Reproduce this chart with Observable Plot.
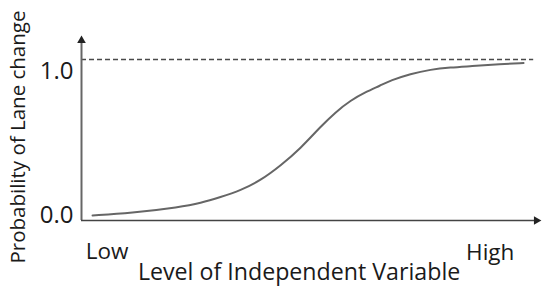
<!DOCTYPE html>
<html>
<head>
<meta charset="utf-8">
<script src="https://cdn.jsdelivr.net/npm/d3@7"></script>
<script src="https://cdn.jsdelivr.net/npm/@observablehq/plot@0.6"></script>
<style>
  html, body { margin: 0; padding: 0; background: #fff; }
</style>
</head>
<body>
<div id="chart"></div>
<script>
// Curve (x: 0..100 level, y: probability)
const levelX = [2.4, 10.65, 21.5, 25.9, 30.2, 34.6, 38.9, 43.3, 47.6, 52.0, 55.2, 58.5, 61.7, 65.0, 67.2, 71.5, 75.9, 80.2, 84.6, 91.1, 96.1];
const probY  = [0.0, 0.016, 0.058, 0.086, 0.127, 0.174, 0.243, 0.347, 0.465, 0.618, 0.717, 0.799, 0.856, 0.903, 0.938, 0.984, 1.014, 1.028, 1.037, 1.052, 1.059];
const asymptote = 1.083;
const yTicks = [0, 1];
const yTickLabels = ["0.0", "1.0"];
const xLabels = ["Low", "High"];
const xTitle = "Level of Independent Variable";
const yTitle = "Probability of Lane change";

const curve = levelX.map((x, i) => ({x, y: probY[i]}));
const font = "'Open Sans', sans-serif";
const ink = "#1a1a1a";

const chart = Plot.plot({
  width: 550,
  height: 292,
  margin: 0,
  x: {domain: [0, 100], range: [81, 541], axis: null},
  y: {domain: [0, 1], range: [215, 71], axis: null},
  style: {fontFamily: font, background: "#fff", color: ink},
  marks: [
    // dashed asymptote
    Plot.ruleY([asymptote], {x1: 0, x2: 98.3, stroke: "#4a4a4a", strokeWidth: 1.4, strokeDasharray: "5,3"}),
    // y axis line + arrow
    Plot.ruleX([0], {y1: -0.035, y2: 1.215, stroke: "#666", strokeWidth: 2}),
    Plot.dot([0], {x: 0, y: 1.215, symbol: "triangle", r: 3.2, fill: "#222", stroke: null}),
    // x axis line + arrow
    Plot.ruleY([-0.035], {x1: 0, x2: 98.9, stroke: "#444", strokeWidth: 1.6}),
    Plot.dot([0], {x: 98.9, y: -0.035, symbol: "triangle", r: 3.2, fill: "#222", stroke: null, rotate: 90}),
    // sigmoid curve
    Plot.line(curve, {x: "x", y: "y", curve: "basis", stroke: "#666", strokeWidth: 2}),
    // y tick labels
    Plot.text(yTicks, {x: 0, y: d => d, text: (d, i) => yTickLabels[i], textAnchor: "end", dx: -8, fontSize: 24, fill: ink}),
    // x end labels
    Plot.text([xLabels[0]], {x: 0.9, y: -0.255, text: d => d, textAnchor: "start", fontSize: 22.5, fill: ink}),
    Plot.text([xLabels[1]], {x: 94.1, y: -0.262, text: d => d, textAnchor: "end", fontSize: 22.5, fill: ink}),
    // axis titles
    Plot.text([xTitle], {x: 47.3, y: -0.396, text: d => d, fontSize: 23.2, fill: ink}),
    Plot.text([yTitle], {x: -13.7, y: 0.545, text: d => d, rotate: -90, fontSize: 20.5, fill: ink})
  ]
});
document.getElementById("chart").appendChild(chart);
</script>
</body>
</html>
